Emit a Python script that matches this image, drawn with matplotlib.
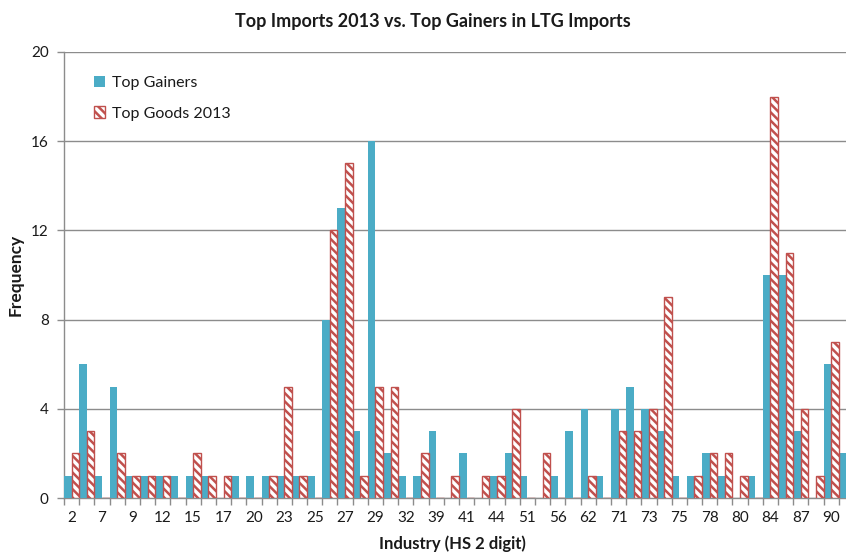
import matplotlib
matplotlib.use('Agg')
import matplotlib.pyplot as plt
import numpy as np

# HS 2-digit industry codes (only every other one is labelled on the axis)
hs_codes = ['2', '4', '7', '8', '9', '10', '12', '13', '15', '16',
            '17', '19', '20', '22', '23', '24', '25', '26', '27', '28',
            '29', '30', '32', '38', '39', '40', '41', '42', '44', '48',
            '51', '52', '56', '61', '62', '70', '71', '72', '73', '74',
            '75', '76', '78', '79', '80', '83', '84', '85', '87', '89',
            '90', '94']

top_gainers = [1, 6, 1, 5, 1, 1, 1, 1, 1, 1,
               0, 1, 1, 1, 1, 1, 1, 8, 13, 3,
               16, 2, 1, 1, 3, 0, 2, 0, 1, 2,
               1, 0, 1, 3, 4, 1, 4, 5, 4, 3,
               1, 1, 2, 1, 0, 1, 10, 10, 3, 0,
               6, 2]

top_goods_2013 = [2, 3, 0, 2, 1, 1, 1, 0, 2, 1,
                  1, 0, 0, 1, 5, 1, 0, 12, 15, 1,
                  5, 5, 0, 2, 0, 1, 0, 1, 1, 4,
                  0, 2, 0, 0, 1, 0, 3, 3, 4, 9,
                  0, 1, 2, 2, 1, 0, 18, 11, 4, 1,
                  7, 0]

BLUE = '#4BACC6'
RED = '#C0504D'
GRID = '#8C8C8C'
TEXT = '#1A1A1A'

plt.rcParams['font.family'] = ['Lato', 'DejaVu Sans']
plt.rcParams['hatch.color'] = RED
plt.rcParams['hatch.linewidth'] = 1.8

fig = plt.figure(figsize=(8.46, 5.55), dpi=100)
ax = fig.add_axes([64 / 846, 57 / 555, 790 / 846, 446 / 555])

x = np.arange(len(hs_codes))
ax.bar(x - 0.25, top_gainers, width=0.5, color=BLUE, label='Top Gainers', zorder=3)
ax.bar(x + 0.25, top_goods_2013, width=0.5, color='white', edgecolor=RED,
       linewidth=1.0, hatch='\\\\\\\\', label='Top Goods 2013', zorder=3)

ax.set_xlim(-0.5, len(hs_codes) - 0.5)
ax.set_ylim(0, 20)
ax.set_yticks(np.arange(0, 21, 4))
ax.yaxis.grid(True, color=GRID, linewidth=1.0, zorder=0)

# labels on every other category, tick marks on category boundaries
ax.set_xticks(x[::2])
ax.set_xticklabels(hs_codes[::2])
ax.set_xticks(np.arange(-0.5, len(hs_codes), 1), minor=True)
ax.tick_params(axis='x', which='major', length=0, pad=9, labelsize=11, labelcolor=TEXT)
ax.tick_params(axis='x', which='minor', length=5, color=GRID, width=1)
ax.tick_params(axis='y', length=5, color=GRID, width=1, labelsize=11, labelcolor=TEXT, pad=6)

for side in ['top', 'right']:
    ax.spines[side].set_visible(False)
for side in ['left', 'bottom']:
    ax.spines[side].set_color(GRID)
    ax.spines[side].set_linewidth(1.0)

ax.set_ylabel('Frequency', fontsize=12.5, fontweight='bold', color=TEXT)
ax.yaxis.set_label_coords(-0.051, 0.5)
ax.set_xlabel('Industry (HS 2 digit)', fontsize=12, fontweight='bold', color=TEXT)
ax.xaxis.set_label_coords((452 - 64) / 790, -0.083)

fig.text(433 / 846, 1 - 21 / 555, 'Top Imports 2013 vs. Top Gainers in LTG Imports',
         ha='center', va='center', fontsize=13, fontweight='bold', color=TEXT)

ax.legend(loc='upper left', bbox_to_anchor=(0.02, 0.978), frameon=False, fontsize=11.5,
          handlelength=0.7, handleheight=0.7, handletextpad=0.4, labelspacing=1.0,
          labelcolor=TEXT)

fig.savefig('out.png', dpi=100)
